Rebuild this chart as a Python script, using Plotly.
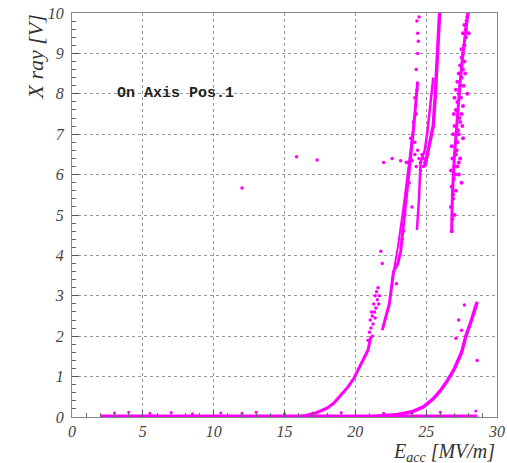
import plotly.graph_objects as go

MAG = "#ff00ff"

# baseline (flat zero readings)
base_x = [2.0, 28.6]
base_y = [0.03, 0.03]
noise_x = [3.0, 4.0, 5.5, 7.0, 8.5, 10.5, 12.0, 13.0, 15.0, 17.0, 19.0, 22.0, 24.0, 26.0, 28.5]
noise_y = [0.10, 0.12, 0.09, 0.11, 0.08, 0.10, 0.09, 0.12, 0.08, 0.10, 0.11, 0.09, 0.10, 0.12, 0.15]

# first rising curve
a_x = [15.8, 16.5, 17.2, 18.0, 18.5, 19.0, 19.5, 19.9, 20.4, 20.9, 21.1]
a_y = [0.0, 0.04, 0.10, 0.22, 0.35, 0.55, 0.75, 0.96, 1.32, 1.66, 2.0]
asc_x = [20.9, 21.0, 21.05, 21.1, 21.15, 21.2, 21.25, 21.3, 21.35, 21.4, 21.45, 21.5,
         21.55, 21.6, 21.65, 21.7, 21.8, 21.9, 21.2, 21.4]
asc_y = [1.9, 2.1, 2.4, 2.2, 2.6, 2.5, 2.3, 2.8, 2.6, 3.0, 2.7, 3.1,
         2.9, 3.2, 2.8, 3.0, 4.1, 3.8, 2.0, 2.45]

# steep branches
b1_x = [21.9, 22.4, 22.7, 23.0, 23.2, 23.6, 23.9, 24.1, 24.4]
b1_y = [2.15, 2.8, 3.6, 3.8, 4.1, 5.45, 6.4, 7.1, 8.3]
b1b_x = [22.6, 23.0, 23.4, 23.7, 24.0, 24.2]
b1b_y = [3.4, 4.2, 5.2, 6.0, 6.9, 7.5]
b1s_x = [24.3, 24.4, 24.45, 24.4, 24.35, 24.5, 24.2, 24.3, 24.1, 23.9, 24.0, 23.4, 22.9,
         23.8, 23.5, 23.3, 24.2, 24.25, 24.35]
b1s_y = [8.6, 9.0, 9.3, 9.5, 9.8, 9.9, 7.9, 7.5, 7.3, 6.9, 5.2, 4.6, 3.3,
         5.8, 5.0, 4.4, 6.8, 7.7, 8.1]
b2_x = [24.35, 24.5, 24.6, 24.9, 25.1, 25.3, 25.5]
b2_y = [4.63, 5.45, 6.3, 6.6, 7.1, 7.85, 8.4]
b3_x = [24.9, 25.2, 25.5, 25.65, 25.75, 25.85, 25.95]
b3_y = [6.2, 6.7, 7.2, 8.0, 8.8, 9.4, 10.0]
cl_x = [23.7, 23.9, 24.0, 24.2, 24.3, 24.5, 24.6, 24.7, 24.8, 24.9, 25.0, 24.4, 24.6, 24.8]
cl_y = [6.3, 6.4, 6.35, 6.5, 6.2, 6.4, 6.3, 6.5, 6.4, 6.3, 6.35, 6.6, 6.1, 6.2]

# right band
c_x = [26.8, 26.85, 26.75, 26.9, 26.8, 26.95, 26.75, 27.0, 26.85, 27.1, 26.8, 27.2, 26.9, 27.3,
       27.0, 27.4, 26.95, 27.5, 27.1, 27.6, 27.2, 27.0, 27.3, 27.1, 27.4, 27.2, 27.5, 27.3,
       27.6, 27.4, 27.5, 27.6, 27.7, 27.5, 27.8, 27.6, 27.7, 27.85, 27.9, 27.95, 27.8, 28.0,
       27.7, 27.9, 27.3, 27.5, 27.6, 27.05, 27.15, 27.25, 27.35, 27.45, 26.9, 27.0, 27.1,
       27.2, 27.3, 27.4, 27.55, 27.65, 27.75]
c_y = [4.6, 4.9, 5.2, 5.4, 5.7, 5.9, 6.1, 6.2, 6.4, 6.5, 6.7, 6.8, 7.0, 7.0,
       7.2, 7.3, 7.5, 7.5, 7.6, 7.7, 7.8, 7.9, 8.0, 8.1, 8.2, 8.3, 8.4, 8.5,
       8.6, 8.7, 8.9, 9.0, 9.2, 9.1, 9.4, 9.5, 9.7, 9.8, 9.9, 10.0, 9.6, 9.5,
       8.8, 8.0, 6.3, 5.8, 6.9, 6.0, 6.6, 7.1, 7.4, 7.9, 5.5, 5.0, 5.6,
       6.2, 6.0, 6.4, 7.2, 8.2, 8.5]
cl2_x = [26.8, 26.85, 27.0, 27.2, 27.4, 27.6, 27.8, 27.95]
cl2_y = [4.6, 5.5, 6.5, 7.5, 8.3, 9.0, 9.6, 10.0]

# second rising curve
d_x = [21.0, 22.0, 23.0, 24.0, 24.8, 25.5, 26.0, 26.5, 27.0, 27.5, 27.8, 28.2, 28.6]
d_y = [0.0, 0.02, 0.06, 0.13, 0.25, 0.45, 0.65, 0.9, 1.2, 1.6, 2.0, 2.4, 2.85]

# isolated points
iso_x = [12.0, 15.85, 17.3, 22.0, 22.6, 23.2, 23.6, 27.7, 28.6, 27.3, 27.5, 27.1]
iso_y = [5.67, 6.44, 6.36, 6.3, 6.4, 6.34, 6.3, 2.77, 1.4, 2.4, 2.15, 1.95]

x_ticks = [0, 5, 10, 15, 20, 25, 30]
y_ticks = [0, 1, 2, 3, 4, 5, 6, 7, 8, 9, 10]

fig = go.Figure()


def line(x, y, w=3):
    fig.add_trace(go.Scatter(x=x, y=y, mode="lines", line=dict(color=MAG, width=w),
                             hoverinfo="skip"))


def pts(x, y, s=3.5):
    fig.add_trace(go.Scatter(x=x, y=y, mode="markers",
                             marker=dict(color=MAG, size=s, line=dict(width=0))))


line(base_x, base_y, 2.5)
pts(noise_x, noise_y, 3)
line(a_x, a_y, 3)
pts(asc_x, asc_y)
line(b1_x, b1_y, 3)
line(b1b_x, b1b_y, 2)
pts(b1s_x, b1s_y)
line(b2_x, b2_y, 2.5)
line(b3_x, b3_y, 3.5)
pts(cl_x, cl_y)
line(cl2_x, cl2_y, 3)
pts(c_x, c_y, 4)
line(d_x, d_y, 3.5)
pts(iso_x, iso_y, 3.5)

serif = dict(family="Liberation Serif, serif", size=16, color="#444444", style="italic")

axis_common = dict(
    showline=True, linecolor="#888888", linewidth=1, mirror=True,
    ticks="inside", ticklen=7, tickcolor="#555555",
    showgrid=True, gridcolor="#999999", griddash="dot", gridwidth=1,
    zeroline=False, tickfont=serif, automargin=False,
)

fig.update_layout(
    width=507, height=463,
    margin=dict(l=72, r=10, t=13, b=46, autoexpand=False),
    paper_bgcolor="white", plot_bgcolor="white",
    showlegend=False,
    xaxis=dict(range=[0, 30], tickvals=x_ticks,
               ticktext=["<i>%d</i>" % v for v in x_ticks], ticklabelstandoff=0,
               minor=dict(dtick=1, ticks="inside", ticklen=4, tickcolor="#666666", showgrid=False),
               **axis_common),
    yaxis=dict(range=[0, 10], tickvals=y_ticks,
               ticktext=["<i>%d</i>" % v for v in y_ticks], ticklabelstandoff=4,
               minor=dict(dtick=0.2, ticks="inside", ticklen=4, tickcolor="#666666", showgrid=False),
               **axis_common),
    annotations=[
        dict(text="On Axis Pos.1", x=3.0, y=8.0, xref="x", yref="y", xanchor="left",
             yanchor="middle", showarrow=False,
             font=dict(family="Liberation Mono", size=15, color="#222222", weight="bold")),
        dict(text="<i>X ray [V]</i>", x=-0.087, y=1.0, xref="paper", yref="paper", textangle=-90,
             xanchor="center", yanchor="top", showarrow=False,
             font=dict(family="Liberation Serif, serif", size=22, color="#333333", style="italic")),
        dict(text="<i>E<sub>acc</sub> [MV/m]</i>", x=1.0, y=-0.052, xref="paper", yref="paper",
             xanchor="right", yanchor="top", showarrow=False,
             font=dict(family="Liberation Serif, serif", size=20, color="#333333", style="italic")),
    ],
)

fig.write_html(
    "out.html",
    config={"displayModeBar": False},
    post_script="document.body.style.margin='0';document.body.style.overflow='hidden';",
)
